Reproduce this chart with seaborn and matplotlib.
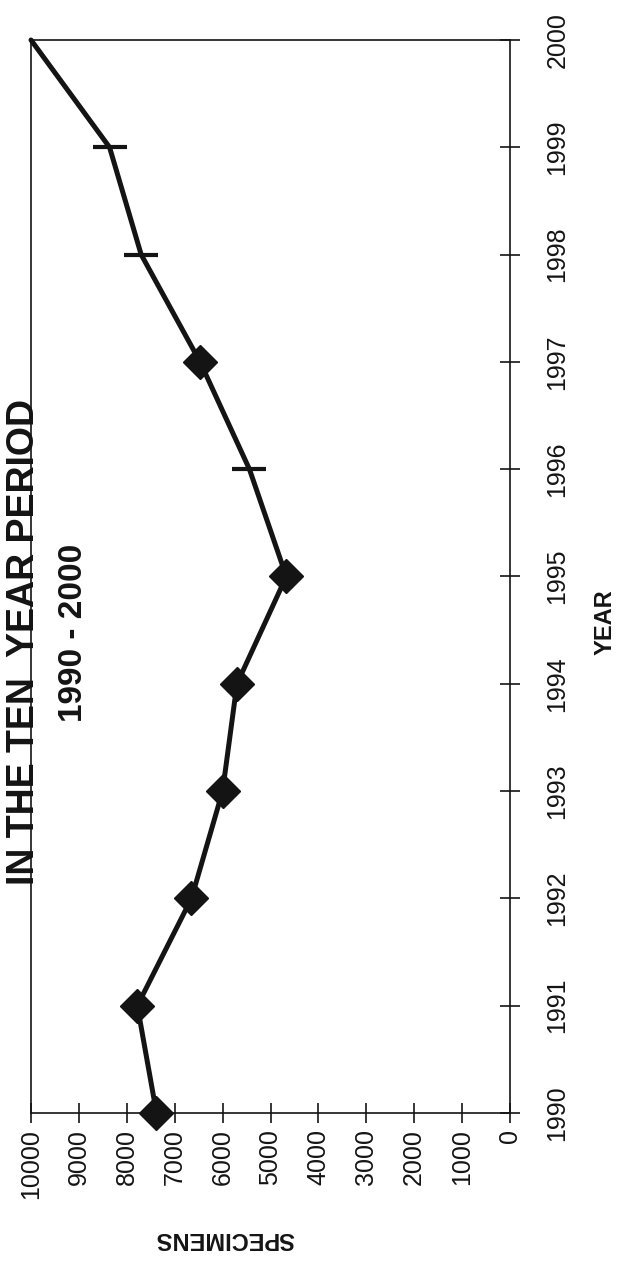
import numpy as np
import pandas as pd
import matplotlib
matplotlib.use("Agg")
import matplotlib.pyplot as plt
import seaborn as sns

sns.set_theme(style="white")
plt.rcParams["font.family"] = ["Liberation Sans", "DejaVu Sans"]

# data (the page is scanned rotated 90 degrees)
years = [1990, 1991, 1992, 1993, 1994, 1995, 1996, 1997, 1998, 1999, 2000]
specimens = [7380, 7780, 6650, 6000, 5700, 4670, 5440, 6470, 7700, 8360, 10000]
marker_kind = ["D", "D", "D", "D", "D", "D", "_", "D", "_", "_", ""]

spec_ticks = list(range(0, 10001, 1000))
year_ticks = list(range(1990, 2001))

df = pd.DataFrame({"year": years, "specimens": specimens, "marker": marker_kind})
INK = "#141414"

fig = plt.figure(figsize=(6.19, 12.78), dpi=100)
ax = fig.add_axes([31 / 619, 1 - 1113 / 1278, (510 - 31) / 619, (1113 - 40) / 1278])

sns.lineplot(data=df, x="specimens", y="year", sort=False, estimator=None,
             color=INK, linewidth=3.6, ax=ax, clip_on=False,
             solid_capstyle="round", solid_joinstyle="round")

dia = df[df["marker"] == "D"]
ax.plot(dia["specimens"], dia["year"], linestyle="none", marker="D",
        markersize=17, color=INK, markeredgewidth=1, clip_on=False, zorder=3)
dash = df[df["marker"] == "_"]
ax.plot(dash["specimens"], dash["year"], linestyle="none", marker="_",
        markersize=24, color=INK, markeredgewidth=3, clip_on=False, zorder=3)

ax.set_xlim(10000, 0)
ax.set_ylim(1990, 2000)
ax.set_xticks(spec_ticks)
ax.set_xticklabels([str(t) for t in spec_ticks], rotation=90)
ax.set_yticks(year_ticks)
ax.set_yticklabels([str(t) for t in year_ticks], rotation=90, va="center")
ax.yaxis.tick_right()

ax.tick_params(axis="both", direction="inout", length=15, width=1.2,
               color=INK, labelcolor=INK, labelsize=18)
ax.tick_params(axis="x", bottom=True, top=False, pad=4)
ax.tick_params(axis="y", right=True, left=False, pad=18)

for sp in ax.spines.values():
    sp.set_visible(True)
    sp.set_color(INK)
    sp.set_linewidth(1.2)

ax.set_xlabel("")
ax.set_ylabel("")

fig.text(34 / 619, 1 - 642 / 1278, "IN THE TEN  YEAR PERIOD", rotation=90,
         rotation_mode="anchor", ha="center", va="baseline",
         fontsize=27, fontweight="bold", color=INK)
fig.text(82 / 619, 1 - 633 / 1278, "1990 - 2000", rotation=90,
         rotation_mode="anchor", ha="center", va="baseline",
         fontsize=24, fontweight="bold", color=INK)
fig.text(612 / 619, 1 - 622 / 1278, "YEAR", rotation=90,
         rotation_mode="anchor", ha="center", va="baseline",
         fontsize=17, fontweight="bold", color=INK)
fig.text(225 / 619, 1 - 1232 / 1278, "SPECIMENS", rotation=180,
         rotation_mode="anchor", ha="center", va="baseline",
         fontsize=17, fontweight="bold", color=INK)

fig.savefig("out.png", dpi=100, facecolor="white")
